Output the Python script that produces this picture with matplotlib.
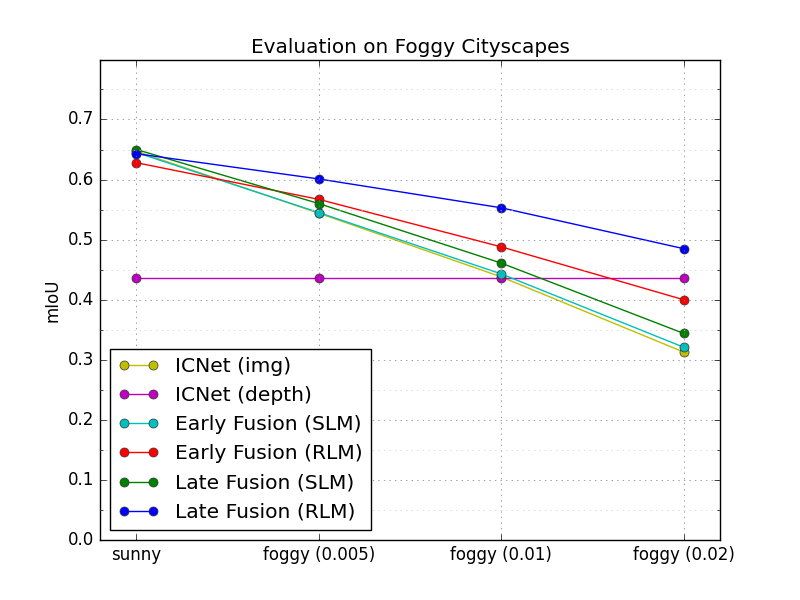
import matplotlib
matplotlib.use("Agg")
from matplotlib import pyplot as plt
import numpy as np

conditions = ["sunny", "foggy (0.005)", "foggy (0.01)", "foggy (0.02)"]

icnet_img = [0.647, 0.544, 0.438, 0.313]
icnet_depth = [0.436, 0.436, 0.436, 0.436]
early_slm = [0.645, 0.545, 0.443, 0.321]
early_rlm = [0.628, 0.567, 0.488, 0.400]
late_slm = [0.650, 0.560, 0.461, 0.344]
late_rlm = [0.643, 0.601, 0.553, 0.485]

series = [
    ("ICNet (img)", icnet_img, "y"),
    ("ICNet (depth)", icnet_depth, "m"),
    ("Early Fusion (SLM)", early_slm, "c"),
    ("Early Fusion (RLM)", early_rlm, "r"),
    ("Late Fusion (SLM)", late_slm, "g"),
    ("Late Fusion (RLM)", late_rlm, "b"),
]

plt.style.use("classic")
fig, ax = plt.subplots(figsize=(8, 6), dpi=100)
fig.patch.set_facecolor("white")

x = np.arange(len(conditions))
for name, values, color in series:
    ax.plot(x, values, color + "-o", label=name, markersize=6.5,
            markeredgecolor="#333333")

ax.set_xlim(-0.2, 3.2)
ax.set_ylim(0, 0.799)
ax.set_xticks(x)
ax.set_xticklabels(conditions)
ax.set_yticks(np.arange(0, 0.75, 0.1))
ax.set_yticks(np.arange(0.05, 0.8, 0.1), minor=True)
ax.grid(True, which="major", color="#777777", linestyle=":")
ax.grid(True, which="minor", axis="y", color="#cccccc", linestyle=":")
ax.set_ylabel("mIoU")
ax.set_title("Evaluation on Foggy Cityscapes")
ax.legend(loc="lower left", fontsize=14.6, numpoints=2)

plt.savefig("out.png", dpi=100, facecolor="white")
